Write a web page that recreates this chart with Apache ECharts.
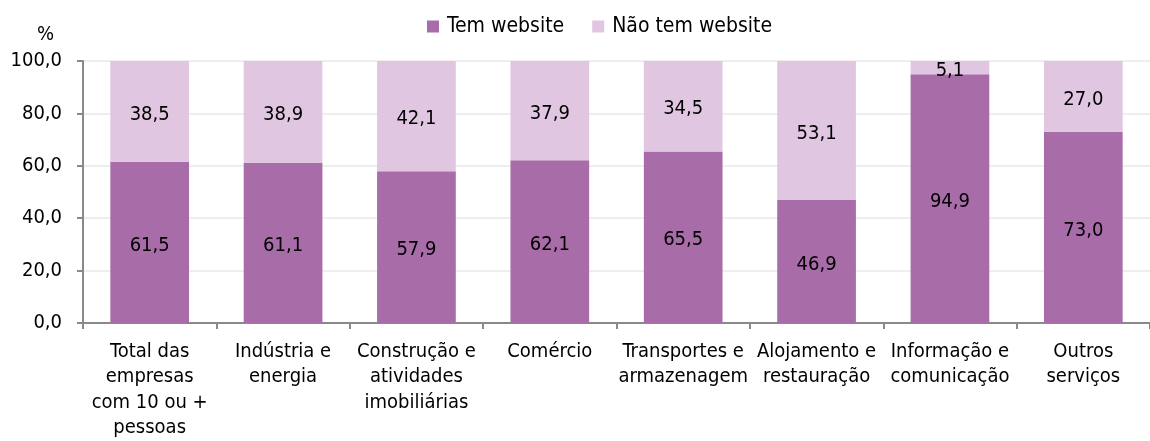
<!DOCTYPE html>
<html>
<head>
<meta charset="utf-8">
<script src="https://cdn.jsdelivr.net/npm/echarts@6/dist/echarts.min.js"></script>
<style>
html,body{margin:0;padding:0;background:#fff;}
#c{width:1150px;height:441px;}
</style>
</head>
<body>
<div id="c"></div>
<script>
var categories = [
  "Total das\nempresas\ncom 10 ou +\npessoas",
  "Indústria e\nenergia",
  "Construção e\natividades\nimobiliárias",
  "Comércio",
  "Transportes e\narmazenagem",
  "Alojamento e\nrestauração",
  "Informação e\ncomunicação",
  "Outros\nserviços"
];
var temWebsite = [61.5, 61.1, 57.9, 62.1, 65.5, 46.9, 94.9, 73.0];
var naoTemWebsite = [38.5, 38.9, 42.1, 37.9, 34.5, 53.1, 5.1, 27.0];
var yTicks = [0, 20, 40, 60, 80, 100];

var FONT = "'DejaVu Sans Condensed', 'DejaVu Sans', sans-serif";
function fmt(v){ return Number(v).toFixed(1).replace('.', ','); }

var chart = echarts.init(document.getElementById('c'), null, {renderer:'canvas'});
chart.setOption({
  animation: false,
  textStyle: {fontFamily: FONT},
  legend: {
    top: 11,
    left: 422,
    itemWidth: 12,
    itemHeight: 12,
    itemGap: 28,
    icon: 'rect',
    textStyle: {fontFamily: FONT, fontSize: 21, color: '#000', padding: [0,0,0,3]},
    data: ['Tem website', 'Não tem website']
  },
  graphic: [{
    type: 'text',
    left: 37,
    top: 25,
    style: {text: '%', font: '20px ' + FONT, fill: '#000'}
  }],
  grid: {left: 83, right: -14, top: 61, bottom: 117, containLabel: false},
  xAxis: {
    type: 'category',
    data: categories,
    axisLine: {lineStyle: {color: '#898989', width: 2}},
    axisTick: {show: true, length: 6, lineStyle: {color: '#898989', width: 2}},
    axisLabel: {
      interval: 0,
      margin: 16,
      fontFamily: FONT,
      fontSize: 20,
      lineHeight: 25.5,
      color: '#000',
      align: 'center'
    }
  },
  yAxis: {
    type: 'value',
    min: 0,
    max: 100,
    interval: 20,
    axisLine: {show: true, lineStyle: {color: '#898989', width: 2}},
    axisTick: {show: true, length: 6, lineStyle: {color: '#898989', width: 2}},
    splitLine: {show: true, lineStyle: {color: '#EEEEEE', width: 2}},
    axisLabel: {
      margin: 21,
      fontFamily: FONT,
      fontSize: 20,
      color: '#000',
      formatter: function(v){ return yTicks.indexOf(v) >= 0 ? fmt(v) : ''; }
    }
  },
  series: [
    {
      name: 'Tem website',
      type: 'bar',
      stack: 'total',
      barWidth: '59%',
      data: temWebsite,
      itemStyle: {color: '#A86CA8'},
      label: {show: true, position: 'inside', offset: [0, 3], fontFamily: FONT, fontSize: 20, color: '#000', formatter: function(p){ return fmt(p.value); }}
    },
    {
      name: 'Não tem website',
      type: 'bar',
      stack: 'total',
      barWidth: '59%',
      data: naoTemWebsite,
      itemStyle: {color: '#E0C6E0'},
      label: {show: true, position: 'inside', offset: [0, 3], fontFamily: FONT, fontSize: 20, color: '#000', formatter: function(p){ return fmt(p.value); }}
    }
  ]
});
</script>
</body>
</html>
